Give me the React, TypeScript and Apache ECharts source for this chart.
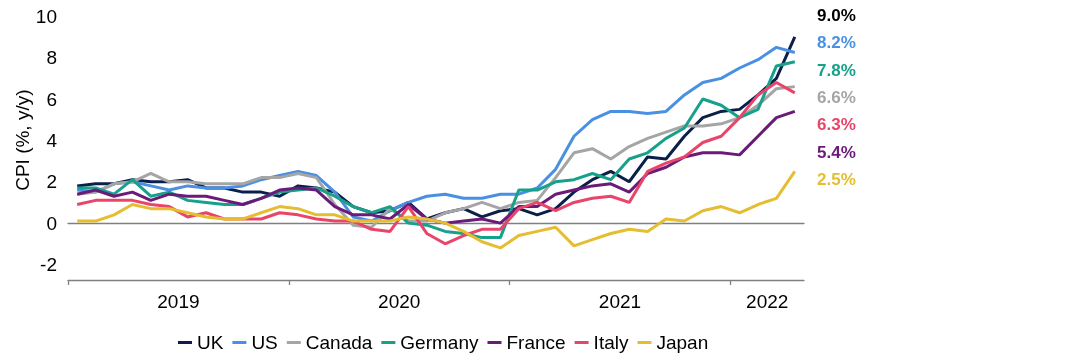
import React, { useEffect, useRef } from "react";
import * as echarts from "echarts";

const monthNames = ["Jan","Feb","Mar","Apr","May","Jun","Jul","Aug","Sep","Oct","Nov","Dec"];
const startYear = 2019;
const monthCount = 40;
const months: string[] = [];
for (let i = 0; i < monthCount; i++) months.push(`${monthNames[i % 12]} ${startYear + Math.floor(i / 12)}`);

const years = ["2019", "2020", "2021", "2022"];
const yTicks = [-2, 0, 2, 4, 6, 8, 10];

const uk = [1.8,1.9,1.9,2.1,2.0,2.0,2.1,1.7,1.7,1.5,1.5,1.3, 1.8,1.7,1.5,0.8,0.5,0.6,1.0,0.2,0.5,0.7,0.3,0.6, 0.7,0.4,0.7,1.5,2.1,2.5,2.0,3.2,3.1,4.2,5.1,5.4, 5.5,6.2,7.0,9.0];
const us = [1.6,1.5,1.9,2.0,1.8,1.6,1.8,1.7,1.7,1.8,2.1,2.3, 2.5,2.3,1.5,0.3,0.1,0.6,1.0,1.3,1.4,1.2,1.2,1.4, 1.4,1.7,2.6,4.2,5.0,5.4,5.4,5.3,5.4,6.2,6.8,7.0, 7.5,7.9,8.5,8.25];
const canada = [1.4,1.5,1.9,2.0,2.4,2.0,2.0,1.9,1.9,1.9,2.2,2.2, 2.4,2.2,0.9,-0.1,-0.2,0.7,0.1,0.1,0.5,0.7,1.0,0.7, 1.0,1.1,2.2,3.4,3.6,3.1,3.7,4.1,4.4,4.7,4.7,4.8, 5.1,5.7,6.5,6.6];
const germany = [1.7,1.7,1.4,2.1,1.3,1.5,1.1,1.0,0.9,0.9,1.2,1.5, 1.6,1.7,1.3,0.8,0.5,0.8,0.0,-0.1,-0.4,-0.5,-0.7,-0.7, 1.6,1.6,2.0,2.1,2.4,2.1,3.1,3.4,4.1,4.6,6.0,5.7, 5.1,5.5,7.6,7.8];
const france = [1.4,1.6,1.3,1.5,1.1,1.4,1.3,1.3,1.1,0.9,1.2,1.6, 1.7,1.6,0.8,0.4,0.4,0.2,0.9,0.2,0.0,0.1,0.2,0.0, 0.8,0.8,1.4,1.6,1.8,1.9,1.5,2.4,2.7,3.2,3.4,3.4, 3.3,4.2,5.1,5.4];
const italy = [0.9,1.1,1.1,1.1,0.9,0.8,0.3,0.5,0.2,0.2,0.2,0.5, 0.4,0.2,0.1,0.1,-0.3,-0.4,0.8,-0.5,-1.0,-0.6,-0.3,-0.3, 0.7,1.0,0.6,1.0,1.2,1.3,1.0,2.5,2.9,3.2,3.9,4.2, 5.1,6.2,6.8,6.3];
const japan = [0.1,0.1,0.4,0.9,0.7,0.7,0.5,0.3,0.2,0.2,0.5,0.8, 0.7,0.4,0.4,0.1,0.1,0.1,0.3,0.2,0.0,-0.4,-0.9,-1.2, -0.6,-0.4,-0.2,-1.1,-0.8,-0.5,-0.3,-0.4,0.2,0.1,0.6,0.8, 0.5,0.9,1.2,2.5];

const seriesNames = ["UK", "US", "Canada", "Germany", "France", "Italy", "Japan"];
const seriesData = [uk, us, canada, germany, france, italy, japan];
const seriesColors = ["#0b1f4b", "#4a90e2", "#a5a5a5", "#17a08a", "#6a1b7a", "#e9456a", "#e4be30"];

const endLabels = ["9.0%", "8.2%", "7.8%", "6.6%", "6.3%", "5.4%", "2.5%"];
const endLabelColors = ["#000000", "#4a90e2", "#17a08a", "#a5a5a5", "#e9456a", "#6a1b7a", "#e4be30"];

const FONT = "'Liberation Sans', Arial, sans-serif";

export default function App() {
  const ref = useRef<HTMLDivElement>(null);
  useEffect(() => {
    if (!ref.current) return;
    const chart = echarts.init(ref.current, undefined, { renderer: "svg" });

    const yearMid: number[] = years.map((_, k) => {
      const s = k * 12;
      const e = Math.min(s + 12, monthCount);
      return (s + e) / 2;
    });
    const yearTicks: number[] = years.map((_, k) => k * 12);

    chart.setOption({
      animation: false,
      textStyle: { fontFamily: FONT },
      grid: { left: 68, right: 284, top: 16.3, bottom: 84, containLabel: false, outerBoundsMode: "none" },
      legend: {
        data: seriesNames,
        left: 173,
        top: 328,
        icon: "rect",
        itemWidth: 14,
        itemHeight: 3,
        itemGap: 9,
        textStyle: { fontFamily: FONT, fontSize: 19, color: "#000" },
      },
      xAxis: [
        {
          type: "category",
          data: months,
          boundaryGap: true,
          position: "bottom",
          axisLine: { show: true, onZero: true, lineStyle: { color: "#808080", width: 1.3 } },
          axisTick: { show: false },
          axisLabel: { show: false },
          splitLine: { show: false },
        },
        {
          type: "value",
          min: 0,
          max: monthCount,
          position: "bottom",
          axisLine: { show: true, onZero: false, lineStyle: { color: "#808080", width: 1.3 } },
          axisTick: { show: true, length: 5, customValues: yearTicks, lineStyle: { color: "#808080", width: 1.3 } },
          axisLabel: {
            customValues: yearMid,
            formatter: (v: number) => {
              const k = yearMid.indexOf(v);
              return k >= 0 ? years[k] : "";
            },
            fontFamily: FONT,
            fontSize: 19,
            color: "#000",
            margin: 12,
          },
          splitLine: { show: false },
        },
      ],
      yAxis: {
        type: "value",
        min: -2.75,
        max: 10,
        name: "CPI (%, y/y)",
        nameLocation: "middle",
        nameRotate: 90,
        nameGap: 36,
        nameMoveOverlap: false,
        nameTextStyle: { fontFamily: FONT, fontSize: 19, color: "#000", padding: [0, 0, 0, 16] },
        axisLine: { show: false },
        axisTick: { show: false },
        splitLine: { show: false },
        axisLabel: { customValues: yTicks, fontFamily: FONT, fontSize: 19, color: "#000", margin: 11 },
      },
      graphic: endLabels.map((t, i) => ({
        type: "text",
        left: 817,
        top: 7 + i * 27.3,
        style: { text: t, fill: endLabelColors[i], font: `bold 17px ${FONT}` },
      })),
      series: seriesNames.map((n, i) => ({
        name: n,
        type: "line",
        xAxisIndex: 0,
        yAxisIndex: 0,
        data: seriesData[i],
        showSymbol: false,
        symbol: "none",
        lineStyle: { width: 3, color: seriesColors[i] },
        itemStyle: { color: seriesColors[i] },
        z: 2 + i,
      })),
    });
    return () => chart.dispose();
  }, []);
  return <div ref={ref} style={{ position: "fixed", left: 0, top: 0, width: 1088, height: 364 }} />;
}
